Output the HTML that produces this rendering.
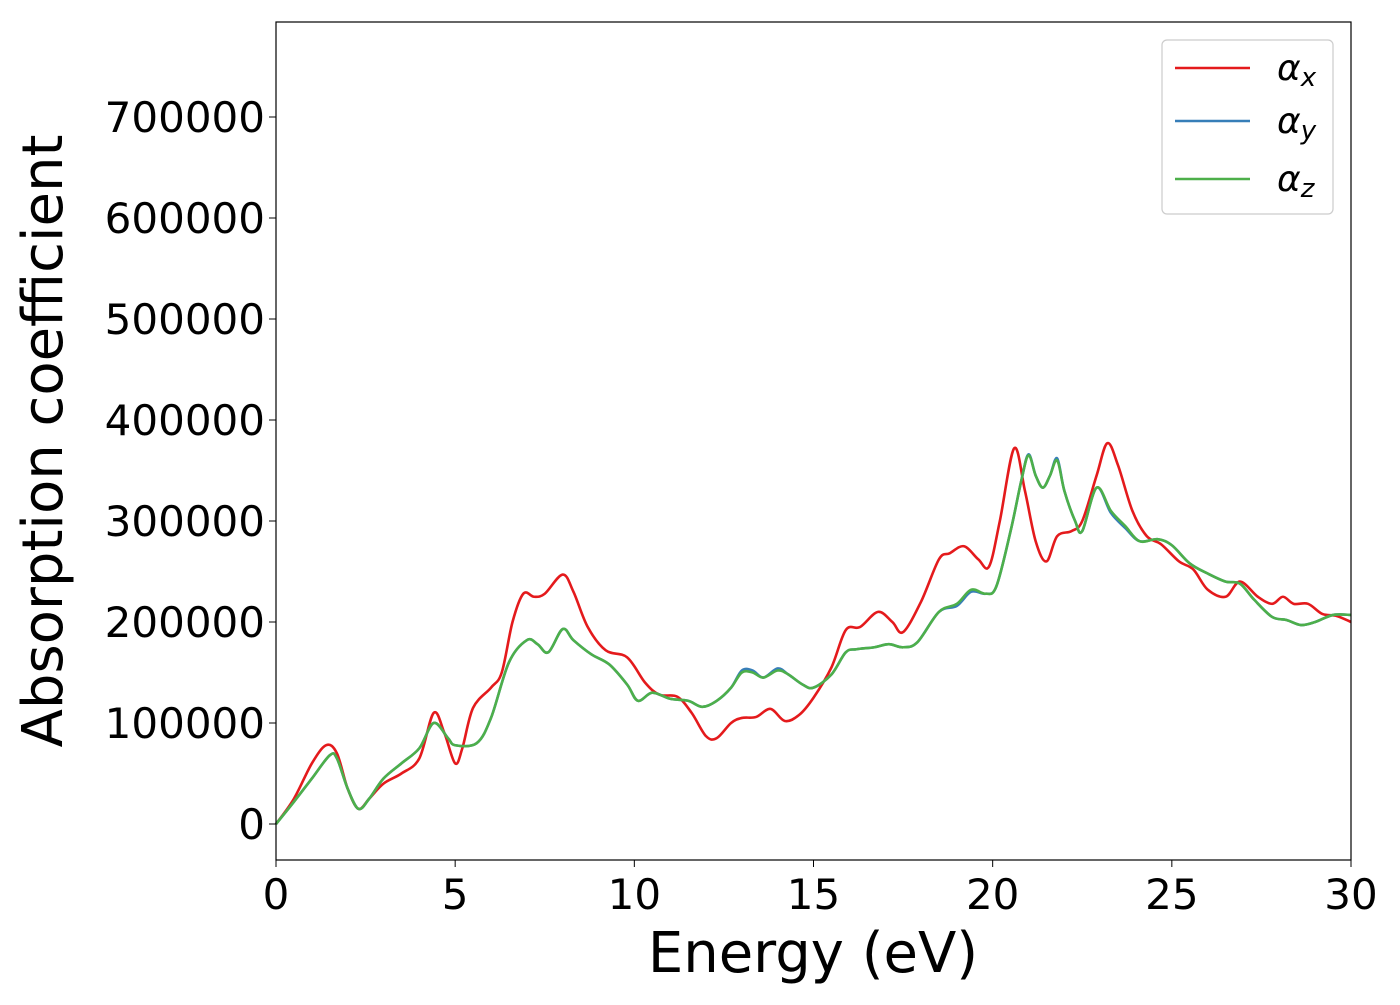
<!DOCTYPE html>
<html><head><meta charset="utf-8"><style>
html,body{margin:0;padding:0;background:#fff;}
svg text{font-family:"DejaVu Sans","Liberation Sans",sans-serif;fill:#000;}
</style></head><body>
<svg id="chart" width="1400" height="1000" viewBox="0 0 1400 1000" xmlns="http://www.w3.org/2000/svg">
<rect width="1400" height="1000" fill="#fff"/>
<g id="ticks"></g>
<g id="series"></g>
<rect x="276" y="22" width="1075" height="838" fill="none" stroke="#000" stroke-width="1.2"/>
<text x="813" y="972" font-size="56" text-anchor="middle">Energy (eV)</text>
<text transform="translate(62,441) rotate(-90)" font-size="56" text-anchor="middle">Absorption coefficient</text>
<g>
<rect x="1162" y="40" width="171" height="174" rx="5" fill="#fff" stroke="#ccc" stroke-width="1.2"/>
<line x1="1175" y1="68" x2="1250" y2="68" stroke="#e41a1c" stroke-width="2.6"/>
<line x1="1175" y1="121" x2="1250" y2="121" stroke="#377eb8" stroke-width="2.6"/>
<line x1="1175" y1="179" x2="1250" y2="179" stroke="#4daf4a" stroke-width="2.6"/>
<text x="1277" y="80" font-size="36" font-style="italic">α<tspan font-size="26" dy="6">x</tspan></text>
<text x="1277" y="133" font-size="36" font-style="italic">α<tspan font-size="26" dy="6">y</tspan></text>
<text x="1277" y="191" font-size="36" font-style="italic">α<tspan font-size="26" dy="6">z</tspan></text>
</g>
</svg>
<script>
const xTicks=[0,5,10,15,20,25,30];
const yTicks=[0,100000,200000,300000,400000,500000,600000,700000];
const xE=[0,0.5,1,1.4,1.7,2,2.3,2.6,3,3.5,4,4.4,4.7,5,5.2,5.5,6,6.3,6.6,6.9,7.2,7.5,8,8.3,8.7,9.2,9.8,10.3,10.7,11.2,11.6,12,12.3,12.7,13,13.4,13.8,14.2,14.6,15,15.5,15.9,16.3,16.8,17.2,17.5,18,18.5,18.8,19.2,19.6,19.9,20.2,20.6,20.9,21.2,21.5,21.8,22.2,22.5,22.9,23.2,23.5,23.9,24.3,24.7,25.2,25.6,26,26.5,26.9,27.4,27.8,28.1,28.4,28.8,29.2,29.6,30];
const xV=[0,25,60,78,70,35,15,25,40,50,65,110,90,60,75,115,135,150,200,228,225,228,247,230,195,172,165,140,128,126,110,87,85,100,105,106,114,102,108,125,155,192,195,210,200,190,220,262,268,275,262,255,300,372,330,280,260,285,290,300,345,377,355,310,285,277,260,252,232,225,240,225,218,225,218,218,208,206,200];
const zE=[0,0.5,1,1.5,1.7,2,2.3,2.6,3,3.5,4,4.4,4.8,5,5.6,6,6.5,7,7.3,7.6,8,8.3,8.8,9.3,9.8,10.1,10.5,11,11.5,11.9,12.3,12.7,13,13.3,13.6,14,14.3,14.7,15,15.5,15.9,16.2,16.7,17.1,17.5,17.9,18.5,19,19.4,19.8,20.1,20.5,20.8,21,21.2,21.4,21.6,21.8,22,22.3,22.5,22.9,23.3,23.7,24.1,24.6,25,25.5,26,26.5,26.9,27.3,27.8,28.2,28.6,29,29.5,30];
const zV=[0,22,45,68,65,35,15,25,45,60,75,100,85,78,80,105,160,182,178,170,193,182,168,158,138,122,130,124,122,116,122,135,150,150,145,152,148,138,135,148,170,173,175,178,175,180,210,218,232,228,235,290,340,365,345,333,345,360,330,300,290,333,310,295,280,282,276,258,248,240,238,222,205,202,197,200,207,207];
const yV=[0,22,45,68,65,35,15,25,45,60,75,100,85,78,80,105,160,182,178,170,193,182,168,158,138,122,130,124,122,116,122,135,152,152,145,154,148,138,135,148,170,173,175,178,175,180,210,216,230,228,235,290,340,366,345,333,345,362,330,300,290,333,308,293,280,282,276,258,248,240,238,222,205,202,197,200,207,207];
const X=e=>276+e*(1075/30);
const Y=v=>824-v*101/100000;
const NS="http://www.w3.org/2000/svg";
const tg=document.getElementById('ticks');
for(const t of xTicks){
  const l=document.createElementNS(NS,'line');
  
  
  l.setAttribute('x1',X(t));l.setAttribute('x2',X(t));l.setAttribute('y1',860);l.setAttribute('y2',867);l.setAttribute('stroke','#000');
  tg.appendChild(l);
  const s=document.createElementNS(NS,'text');
  
  
  s.setAttribute('x',X(t));s.setAttribute('y',909);s.setAttribute('font-size','42');s.setAttribute('text-anchor','middle');
  s.textContent=t;tg.appendChild(s);
}
for(const t of yTicks){
  const l=document.createElementNS(NS,'line');
  
  
  l.setAttribute('x1',269);l.setAttribute('x2',276);l.setAttribute('y1',Y(t));l.setAttribute('y2',Y(t));l.setAttribute('stroke','#000');
  tg.appendChild(l);
  const s=document.createElementNS(NS,'text');
  
  
  s.setAttribute('x',265);s.setAttribute('y',Y(t)+15);s.setAttribute('font-size','42');s.setAttribute('text-anchor','end');
  s.textContent=t;tg.appendChild(s);
}
function path(es,vs){
  const p=es.map((e,i)=>[X(e),Y(vs[i]*1000)]);
  let d='M'+p[0][0]+','+p[0][1];
  for(let i=0;i<p.length-1;i++){
    const p0=p[Math.max(0,i-1)],p1=p[i],p2=p[i+1],p3=p[Math.min(p.length-1,i+2)];
    const c1=[p1[0]+(p2[0]-p0[0])/6,p1[1]+(p2[1]-p0[1])/6];
    const c2=[p2[0]-(p3[0]-p1[0])/6,p2[1]-(p3[1]-p1[1])/6];
    d+=' C'+c1+' '+c2+' '+p2;
  }
  return d;
}
const sg=document.getElementById('series');
const specs=[['series-alpha-x',xE,xV,'#e41a1c'],['series-alpha-y',zE,yV,'#377eb8'],['series-alpha-z',zE,zV,'#4daf4a']];
for(const [n,es,vs,c] of specs){
  const p=document.createElementNS(NS,'path');
  
  
  p.setAttribute('d',path(es,vs));p.setAttribute('fill','none');p.setAttribute('stroke',c);p.setAttribute('stroke-width','2.6');
  sg.appendChild(p);
}
</script>
</body></html>
